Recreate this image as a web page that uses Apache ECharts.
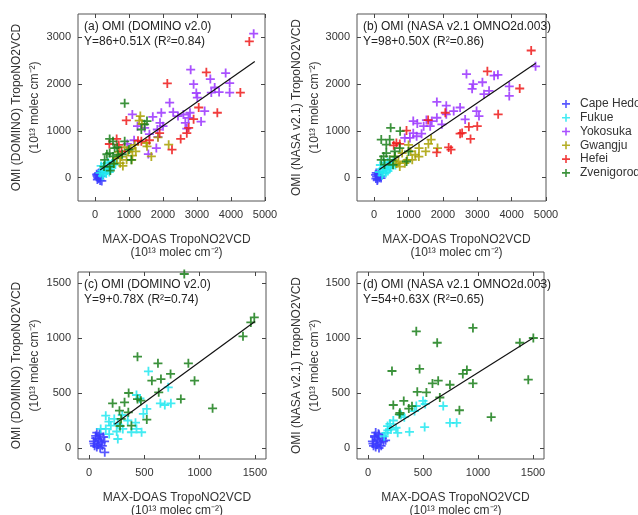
<!DOCTYPE html>
<html><head><meta charset="utf-8">
<script src="https://cdn.jsdelivr.net/npm/echarts@6/dist/echarts.min.js"></script>
<style>html,body{margin:0;padding:0;background:#fff}#c{width:638px;height:515px}</style>
</head><body><div id="c"></div>
<script>
// ---------- DATA ----------
const stations = ['Cape Hedo','Fukue','Yokosuka','Gwangju','Hefei','Zvenigorod'];
const panelTitles = ['(a) OMI (DOMINO v2.0)','(b) OMI (NASA v2.1 OMNO2d.003)','(c) OMI (DOMINO v2.0)','(d) OMI (NASA v2.1 OMNO2d.003)'];
const panelEquations = ['Y=86+0.51X (R\u00b2=0.84)','Y=98+0.50X (R\u00b2=0.86)','Y=9+0.78X (R\u00b2=0.74)','Y=54+0.63X (R\u00b2=0.65)'];
const yNames = ['OMI (DOMINO) TropoNO2VCD','OMI (NASA v2.1) TropoNO2VCD','OMI (DOMINO) TropoNO2VCD','OMI (NASA v2.1) TropoNO2VCD'];
const xName = 'MAX-DOAS TropoNO2VCD';
const unitName = '(10\u00b9\u00b3 molec cm\u207b\u00b2)';
const ticksLargeX = [0,1000,2000,3000,4000,5000];
const ticksLargeY = [0,1000,2000,3000];
const ticksSmall = [0,500,1000,1500];

// Panel (a) DOMINO, all stations
const aCapeHedo = [[60,40],[80,10],[100,-20],[120,60],[90,80],[140,20],[70,-40],[150,-60],[110,100],[50,70],[130,-10],[180,30],[160,90],[200,-70]];
const aFukue = [[150,100],[200,150],[250,80],[300,200],[180,250],[350,150],[400,250],[280,300],[450,180],[500,300],[220,40],[330,90],[420,120],[550,350],[260,200],[380,330],[480,230],[600,280]];
const aYokosuka = [[4667,3079],[2814,2309],[3843,2237],[3392,2108],[3961,2022],[2900,2000],[2980,1810],[3520,1928],[3421,1820],[3961,1820],[3650,1830],[3010,1712],[2196,1604],[3225,1424],[2794,1388],[1098,1352],[1950,1388],[2441,1317],[2300,1400],[2657,1173],[3120,1200],[1912,1173],[2000,1100],[1833,1029],[2700,1050],[1461,1065],[1600,930],[1569,504],[1804,633],[1850,870],[1250,1100],[950,720],[1150,800],[1700,1300],[2600,1350],[2750,1280]];
const aGwangju = [[1333,1317],[1300,1220],[1380,1150],[1853,863],[2167,705],[1510,741],[1530,670],[1657,453],[1170,700],[970,560],[780,450],[930,380],[1080,380],[640,420],[740,310],[1050,620],[1200,560],[870,650],[700,550],[560,300],[1100,470],[820,250]];
const aHefei = [[4539,2914],[3275,2252],[2127,2014],[4275,1820],[3598,1388],[922,1223],[2755,1065],[1363,777],[2520,827],[2265,597],[637,827],[422,719],[700,700],[780,560],[1265,791],[2900,1250],[2700,950],[1900,950],[1600,800],[3050,1500]];
const aZvenigorod = [[873,1590],[1529,1209],[1460,1140],[1363,1029],[431,827],[529,777],[873,777],[1069,381],[578,633],[431,525],[284,381],[265,237],[431,237],[529,453],[676,489],[650,650],[350,500],[550,300],[800,500],[1000,600],[450,150]];
const aFitLine = [[150,163],[4700,2483]];

// Panel (b) NASA, all stations
const bCapeHedo = [[40,60],[70,20],[100,-30],[130,50],[60,100],[150,0],[90,-60],[120,80],[180,30],[50,-20],[160,110],[200,-10]];
const bFukue = [[150,120],[200,180],[250,90],[300,220],[180,270],[350,170],[420,260],[280,320],[460,200],[520,300],[230,50],[340,100],[400,140],[560,360],[270,210],[390,330],[480,240],[620,270]];
const bYokosuka = [[4696,2381],[2686,2216],[3490,2180],[2882,2000],[3150,2040],[3343,1856],[3196,1784],[3931,1950],[3931,1748],[2850,1900],[1824,1619],[2098,1540],[2314,1424],[2098,1353],[1824,1281],[1676,1209],[1520,1230],[1137,1209],[1255,1160],[1440,1100],[1630,1100],[1970,1140],[2980,1424],[3049,1317],[2647,1245],[1137,950],[1235,885],[1040,850],[1380,940],[890,850],[3600,2200],[2500,1500]];
const bGwangju = [[1657,813],[1578,720],[1500,561],[1304,633],[1059,561],[814,525],[1108,381],[961,381],[706,345],[598,453],[745,237],[1196,489],[892,309],[1843,633],[1000,700],[1300,450],[650,300]];
const bHefei = [[4569,2719],[3294,2273],[4235,1906],[3608,1353],[2069,1388],[941,1007],[2559,957],[2500,940],[2804,827],[2755,1086],[2167,647],[2235,597],[647,741],[745,720],[569,690],[1570,1230],[1820,540],[3000,1100]];
const bZvenigorod = [[480,1065],[755,993],[206,813],[451,813],[353,705],[745,633],[598,561],[275,453],[451,381],[941,345],[549,273],[206,381],[353,525],[1000,560],[600,450],[300,280]];
const bFitLine = [[150,173],[4700,2448]];

// Panel (c) DOMINO, low-NO2 stations
const cCapeHedo = [[40,60],[60,90],[80,30],[100,120],[70,140],[50,20],[90,70],[110,50],[130,100],[60,110],[80,80],[120,20],[45,40],[100,0],[140,60],[142,-39],[70,10],[95,130]];
const cFukue = [[537,697],[716,552],[429,482],[460,450],[645,406],[685,391],[740,406],[151,294],[522,355],[491,310],[228,264],[197,203],[259,218],[305,173],[429,173],[475,143],[383,143],[260,82],[182,127],[151,173],[105,173],[300,300],[350,250],[250,150],[180,240],[420,230]];
const cZvenigorod = [[861,1582],[1494,1188],[1463,1142],[1392,1015],[438,830],[623,770],[898,770],[737,673],[568,612],[650,627],[954,612],[358,500],[630,506],[321,415],[213,406],[438,445],[469,430],[830,445],[275,339],[355,324],[1117,361],[290,264],[522,258],[383,203],[280,200]];
const cFitLine = [[230,215],[1500,1150]];

// Panel (d) NASA, low-NO2 stations
const dCapeHedo = [[40,60],[60,100],[80,30],[100,120],[70,140],[50,20],[90,70],[110,50],[130,90],[60,110],[80,80],[120,20],[45,40],[100,0],[140,60],[70,10],[95,130],[160,70]];
const dFukue = [[500,428],[439,382],[684,382],[423,336],[745,229],[806,229],[515,190],[377,147],[178,199],[209,168],[255,184],[163,138],[147,107],[270,138],[300,300],[230,250],[180,160],[330,280],[200,220],[520,400]];
const dZvenigorod = [[954,1092],[439,1061],[629,957],[1503,1000],[1380,957],[469,719],[218,700],[899,709],[862,673],[638,612],[586,587],[745,575],[954,587],[1457,621],[448,511],[531,505],[653,459],[325,428],[371,358],[400,380],[230,391],[285,306],[831,343],[1120,281],[290,320]];
const dFitLine = [[190,174],[1500,999]];

// ---------- STYLE / LAYOUT ----------
const colors = {'Cape Hedo':'#3b3bff','Fukue':'#22e8f0','Yokosuka':'#9a33ff','Gwangju':'#a8a000','Hefei':'#ee1a1a','Zvenigorod':'#1a7f1a'};
const FONT = "'Liberation Sans', Arial, sans-serif";
const PLUS = 'path://M4,0H6V4H10V6H6V10H4V6H0V4H4Z';

const panels = [
  {grid:{left:78,top:14,width:187,height:187}, x:[-500,5000], y:[-500,3500], xt:ticksLargeX, yt:ticksLargeY,
   data:{'Cape Hedo':aCapeHedo,'Fukue':aFukue,'Yokosuka':aYokosuka,'Gwangju':aGwangju,'Hefei':aHefei,'Zvenigorod':aZvenigorod}, fit:aFitLine},
  {grid:{left:357,top:14,width:189,height:187}, x:[-500,5000], y:[-500,3500], xt:ticksLargeX, yt:ticksLargeY,
   data:{'Cape Hedo':bCapeHedo,'Fukue':bFukue,'Yokosuka':bYokosuka,'Gwangju':bGwangju,'Hefei':bHefei,'Zvenigorod':bZvenigorod}, fit:bFitLine},
  {grid:{left:78,top:272,width:188,height:187}, x:[-100,1600], y:[-100,1600], xt:ticksSmall, yt:ticksSmall,
   data:{'Cape Hedo':cCapeHedo,'Fukue':cFukue,'Zvenigorod':cZvenigorod}, fit:cFitLine},
  {grid:{left:357,top:272,width:187,height:187}, x:[-100,1600], y:[-100,1600], xt:ticksSmall, yt:ticksSmall,
   data:{'Cape Hedo':dCapeHedo,'Fukue':dFukue,'Zvenigorod':dZvenigorod}, fit:dFitLine}
];

const grid=[], xAxis=[], yAxis=[], series=[], graphic=[];
const tickStyle = {color:'#444', width:1};
const fmt = v => String(v);
panels.forEach((p,i)=>{
  grid.push(Object.assign({show:true, borderColor:'#555', borderWidth:1, backgroundColor:'transparent'}, p.grid));
  const base = {type:'value', gridIndex:i, axisLine:{show:false, onZero:false}, splitLine:{show:false}};
  xAxis.push(Object.assign({}, base, {position:'bottom', min:p.x[0], max:p.x[1],
    axisTick:{inside:true, length:4, lineStyle:tickStyle, customValues:p.xt},
    axisLabel:{customValues:p.xt, formatter:fmt, margin:8, fontSize:11, color:'#333', fontFamily:FONT}}));
  xAxis.push(Object.assign({}, base, {position:'top', min:p.x[0], max:p.x[1],
    axisTick:{inside:true, length:4, lineStyle:tickStyle, customValues:p.xt},
    axisLabel:{show:false, customValues:p.xt}}));
  yAxis.push(Object.assign({}, base, {position:'left', min:p.y[0], max:p.y[1],
    axisTick:{inside:true, length:4, lineStyle:tickStyle, customValues:p.yt},
    axisLabel:{customValues:p.yt, formatter:fmt, margin:7, fontSize:11, color:'#333', fontFamily:FONT}}));
  yAxis.push(Object.assign({}, base, {position:'right', min:p.y[0], max:p.y[1],
    axisTick:{inside:true, length:4, lineStyle:tickStyle, customValues:p.yt},
    axisLabel:{show:false, customValues:p.yt}}));
  Object.keys(p.data).forEach(name=>{
    series.push({type:'scatter', name:name, xAxisIndex:2*i, yAxisIndex:2*i, data:p.data[name],
      symbol:PLUS, symbolSize:9, itemStyle:{color:colors[name], opacity:0.85}, z:2});
  });
  series.push({type:'line', xAxisIndex:2*i, yAxisIndex:2*i, data:p.fit, showSymbol:false, symbol:'none',
    lineStyle:{color:'#111', width:1.2}, z:5, silent:true});
  const g = p.grid;
  graphic.push({type:'text', left:g.left+6, top:g.top+7, style:{text:panelTitles[i], font:'12px '+FONT, fill:'#222'}, z:10});
  graphic.push({type:'text', left:g.left+6, top:g.top+22, style:{text:panelEquations[i], font:'12px '+FONT, fill:'#222'}, z:10});
  const cx = g.left + g.width/2 + 5;
  graphic.push({type:'text', x:cx, y:g.top+g.height+39, style:{text:xName, font:'12px '+FONT, fill:'#333', align:'center', verticalAlign:'middle'}});
  graphic.push({type:'text', x:cx, y:g.top+g.height+52, style:{text:unitName, font:'12px '+FONT, fill:'#333', align:'center', verticalAlign:'middle'}});
  const cy = g.top + g.height/2;
  const x1 = (i%2===0) ? 17 : 297;
  graphic.push({type:'text', x:x1, y:cy, rotation:Math.PI/2, style:{text:yNames[i], font:'12px '+FONT, fill:'#333', align:'center', verticalAlign:'middle'}});
  graphic.push({type:'text', x:x1+18, y:cy, rotation:Math.PI/2, style:{text:unitName, font:'12px '+FONT, fill:'#333', align:'center', verticalAlign:'middle'}});
});

const chart = echarts.init(document.getElementById('c'), null, {renderer:'canvas'});
chart.setOption({
  animation:false,
  backgroundColor:'#fff',
  grid, xAxis, yAxis, series, graphic,
  legend:{data:stations, orient:'vertical', left:557, top:92, icon:PLUS, itemWidth:8, itemHeight:8, itemGap:0,
    textStyle:{fontSize:12, fontFamily:FONT, color:'#333', lineHeight:13.8, padding:[0,0,0,5]}}
});
</script></body></html>
